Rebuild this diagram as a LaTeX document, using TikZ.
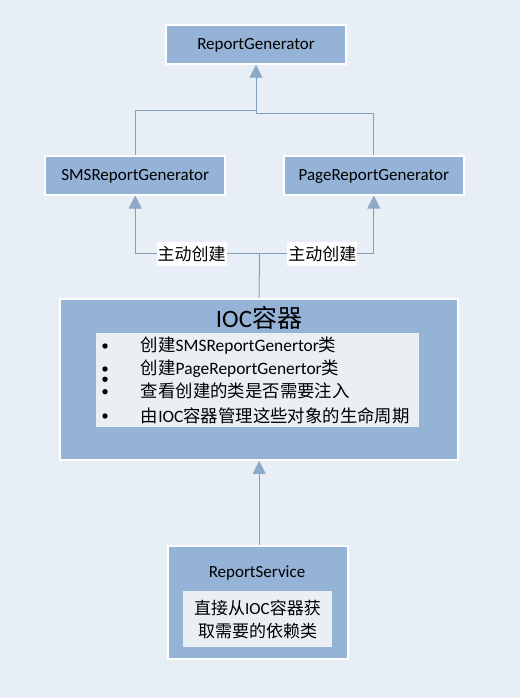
\documentclass[tikz,border=0pt]{standalone}
\usepackage{fontspec}
\setmainfont{Carlito}
\newfontfamily\cjk{Noto Sans CJK SC}
\newcommand{\zh}[1]{{\cjk #1}}
\usetikzlibrary{arrows.meta}
\definecolor{pagebg}{HTML}{E8EEF5}
\definecolor{boxblue}{HTML}{95B3D7}
\definecolor{innerbg}{HTML}{E9EFF2}
\definecolor{linkblue}{HTML}{809FC0}
\definecolor{tipblue}{HTML}{8CA9C8}

\begin{document}
\begin{tikzpicture}[x=1pt,y=-1pt,
    box/.style={draw=white,line width=2pt,fill=boxblue,minimum width=180pt,minimum height=38.5pt,inner sep=0pt,
        text height=11pt,text depth=0pt,font=\fontsize{17}{20}\selectfont},
    inner/.style={fill=innerbg,inner sep=0pt},
    link/.style={draw=linkblue,line width=1pt},
    tip/.style={-{Triangle[width=13pt,length=13pt,color=tipblue]}},
    tag/.style={fill=white,inner sep=0pt,minimum width=70pt,minimum height=24pt,font=\cjk\fontsize{17}{20}\selectfont},
    txt/.style={inner sep=0pt,font=\fontsize{17}{20}\selectfont}]

    % background
    \path[use as bounding box,fill=pagebg] (0,0) rectangle (520,698);

    % generators
    \node[box] (gen) at (256,44.5) {ReportGenerator};
    \node[box] (sms) at (135.2,175.3) {SMSReportGenerator};
    \node[box] (page) at (373.8,175.3) {PageReportGenerator};

    % container
    \node[box,minimum width=397.7pt,minimum height=161.3pt] (ioc) at (259.2,379.3) {};
    \node[txt,font=\fontsize{25}{28}\selectfont] (ioctitle) at (259,318) {IOC\zh{容器}};
    \node[inner,minimum width=323pt,minimum height=94pt] (list) at (257.5,379.7) {};

    % bullets and items
    \foreach \y in {346,369,379.3,391.7,416}
        \fill (105,\y) circle (2.7pt);
    \foreach \y/\item [count=\i] in {346/{\zh{创建}SMSReportGenertor\zh{类}},
                                     369/{\zh{创建}PageReportGenertor\zh{类}},
                                     391/{\zh{查看创建的类是否需要注入}},
                                     416/{\zh{由}IOC\zh{容器管理这些对象的生命周期}}}
        \node[txt,anchor=west,font=\fontsize{17.4}{20}\selectfont] (item\i) at (140.7,\y) {\item};

    % service
    \node[box,minimum height=112.7pt] (service) at (257.9,602.7) {};
    \node[txt,text height=11pt,text depth=0pt] (servicetitle) at (257,571.7) {ReportService};
    \node[inner,minimum width=149.3pt,minimum height=56pt] (note) at (257.3,619) {};
    \node[txt] (note1) at (257.5,607.7) {\zh{直接从}IOC\zh{容器获}};
    \node[txt] (note2) at (257.5,630.7) {\zh{取需要的依赖类}};

    % inheritance
    \coordinate (jl) at (gen.south |- 0,111);
    \coordinate (jr) at (gen.south |- 0,113.3);
    \draw[link,tip] (sms.north) |- (jl) -- (gen.south);
    \draw[link] (page.north) |- (jr) -- (jl);

    % creation
    \coordinate (hub) at (259.3,253.3);
    \draw[link,tip] (hub) -| (sms.south);
    \draw[link,tip] (hub) -| (page.south);
    \draw[link] (hub) -- (ioc.north);
    \node[tag] (make1) at (191.7,253.7) {主动创建};
    \node[tag] (make2) at (322.3,253.7) {主动创建};

    % lookup
    \draw[link,tip] (ioc.south |- service.north) -- (ioc.south);
\end{tikzpicture}
\end{document}
